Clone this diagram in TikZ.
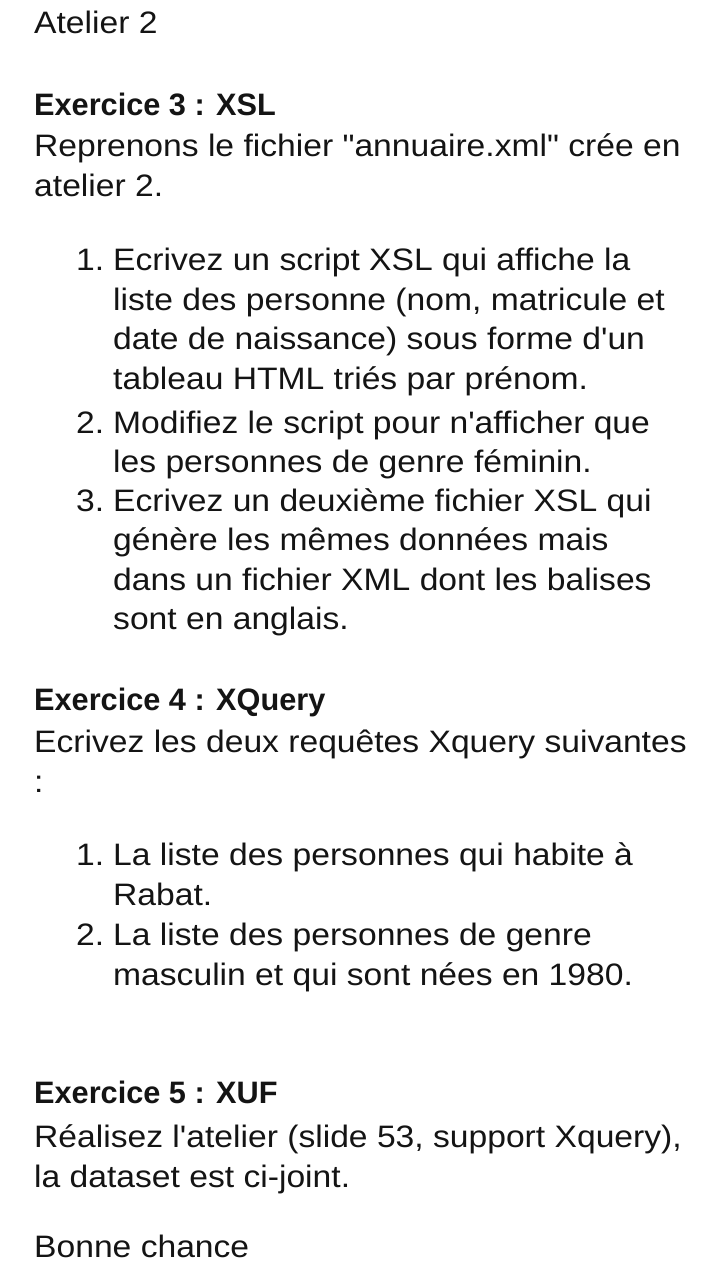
\documentclass[tikz,border=0pt]{standalone}
\usepackage{fontspec}
\newfontfamily\bodyfont{Liberation Sans}[FakeStretch=1.085]
\newfontfamily\headfont{Liberation Sans}[FakeStretch=0.99]
\tikzset{
  txt/.style={inner sep=0pt, anchor=base west, font=\bodyfont\fontsize{31pt}{36pt}\selectfont, text=black!92},
  head/.style={inner sep=0pt, anchor=base west, font=\headfont\bfseries\fontsize{31pt}{36pt}\selectfont, text=black!92}
}
\begin{document}
\begin{tikzpicture}[x=1pt,y=1pt]
\fill[white] (0,0) rectangle (724,-1280);
\useasboundingbox (0,0) rectangle (724,-1280);
% header
\node[txt] (t0) at (34,-33) {Atelier 2};
% Exercice 3
\node[head] (h3) at (34,-115) {Exercice 3 : XSL};
\node[txt] (a1) at (34,-156) {Reprenons le fichier "annuaire.xml" crée en};
\node[txt] (a2) at (34,-196) {atelier 2.};
\node[txt] (n1) at (76,-270) {1.};
\node[txt] (b1) at (113,-270) {Ecrivez un script XSL qui affiche la};
\node[txt] (b2) at (113,-310) {liste des personne (nom, matricule et};
\node[txt] (b3) at (113,-349) {date de naissance) sous forme d'un};
\node[txt] (b4) at (113,-389) {tableau HTML triés par prénom.};
\node[txt] (n2) at (76,-433) {2.};
\node[txt] (c1) at (113,-433) {Modifiez le script pour n'afficher que};
\node[txt] (c2) at (113,-472) {les personnes de genre féminin.};
\node[txt] (n3) at (76,-511) {3.};
\node[txt] (d1) at (113,-511) {Ecrivez un deuxième fichier XSL qui};
\node[txt] (d2) at (113,-550) {génère les mêmes données mais};
\node[txt] (d3) at (113,-590) {dans un fichier XML dont les balises};
\node[txt] (d4) at (113,-629) {sont en anglais.};
% Exercice 4
\node[head] (h4) at (34,-710) {Exercice 4 : XQuery};
\node[txt] (e1) at (34,-752) {Ecrivez les deux requêtes Xquery suivantes};
\node[txt] (e2) at (34,-792) {:};
\node[txt] (m1) at (76,-865) {1.};
\node[txt] (f1) at (113,-865) {La liste des personnes qui habite à};
\node[txt] (f2) at (113,-905) {Rabat.};
\node[txt] (m2) at (76,-945) {2.};
\node[txt] (g1) at (113,-945) {La liste des personnes de genre};
\node[txt] (g2) at (113,-985) {masculin et qui sont nées en 1980.};
% Exercice 5
\node[head] (h5) at (34,-1103) {Exercice 5 : XUF};
\node[txt] (k1) at (34,-1147) {Réalisez l'atelier (slide 53, support Xquery),};
\node[txt] (k2) at (34,-1187) {la dataset est ci-joint.};
\node[txt] (z) at (34,-1257) {Bonne chance};
\end{tikzpicture}
\end{document}
